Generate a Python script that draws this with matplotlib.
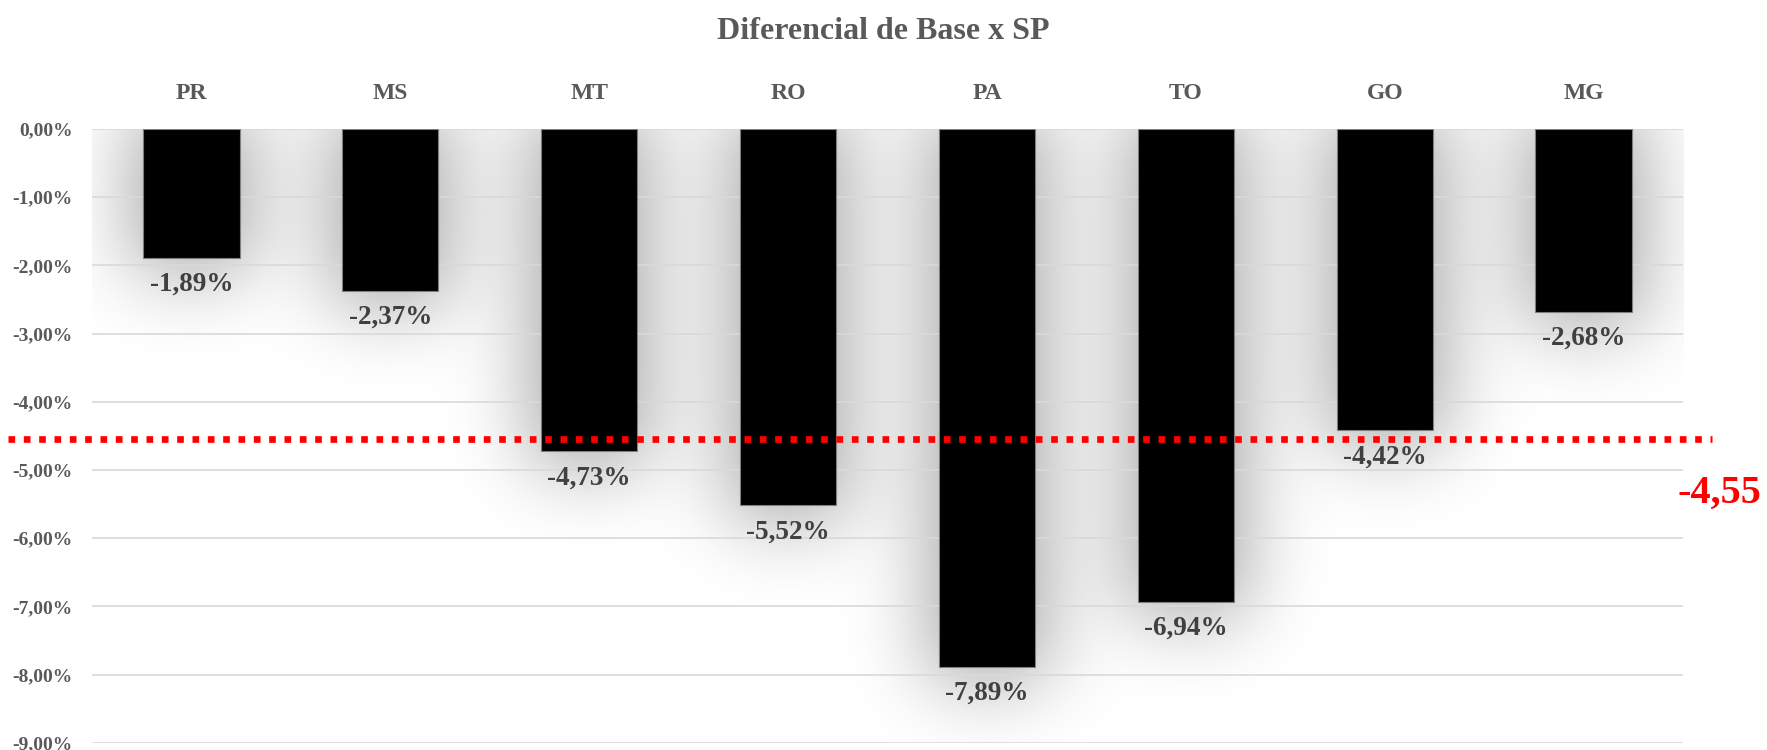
import numpy as np
import matplotlib.pyplot as plt
from matplotlib.ticker import FuncFormatter, MultipleLocator

# ==========
# 1. DATA
# ==========
estados = ["PR", "MS", "MT", "RO", "PA", "TO", "GO", "MG"]
diferencial = [-1.89, -2.37, -4.73, -5.52, -7.89, -6.94, -4.42, -2.68]
media = -4.55
titulo = "Diferencial de Base x SP"

FONT = ["Liberation Serif", "DejaVu Serif"]
plt.rcParams["font.family"] = FONT
plt.rcParams["font.weight"] = "bold"

def br(v, casas=2):
    return f"{v:.{casas}f}".replace(".", ",")

# ==========
# 2. FIGURE
# ==========
W, H, DPI = 1767, 750, 100
fig = plt.figure(figsize=(W / DPI, H / DPI), dpi=DPI)
ax = fig.add_axes([92 / W, 7.3 / H, 1591 / W, 613.8 / H])

x = np.arange(len(estados))
largura = 0.484
xlim = (-0.5, len(estados) - 0.5)
ylim = (-9, 0)

# ---- soft shadow behind bars (blurred mask) ----
nx, ny, pad = 1591, 614, 160
px_x = (xlim[1] - xlim[0]) / nx
px_y = (ylim[1] - ylim[0]) / ny
gx = xlim[0] + (np.arange(nx + 2 * pad) - pad + 0.5) * px_x
gy = ylim[1] - (np.arange(ny + 2 * pad) - pad + 0.5) * px_y
GX, GY = np.meshgrid(gx, gy)
mask = np.zeros_like(GX)
grow = 10
for xi, v in zip(x, diferencial):
    inside = ((GX >= xi - largura / 2 - grow * px_x) & (GX <= xi + largura / 2 + grow * px_x)
              & (GY >= v - grow * 1.5 * px_y) & (GY <= 20 * px_y))
    mask[inside] = 1.0

sigma = 40
k = np.arange(-3 * sigma, 3 * sigma + 1)
kern = np.exp(-0.5 * (k / sigma) ** 2)
kern /= kern.sum()
blur = np.apply_along_axis(lambda r: np.convolve(r, kern, mode="same"), 1, mask)
blur = np.apply_along_axis(lambda c: np.convolve(c, kern, mode="same"), 0, blur)
blur = blur[pad:pad + ny, pad:pad + nx]

shadow = np.zeros((ny, nx, 4))
shadow[..., 3] = 0.36 * blur
ax.imshow(shadow, extent=(xlim[0], xlim[1], ylim[0], ylim[1]), aspect="auto",
          interpolation="bilinear", zorder=0.2)

# ---- bars ----
ax.bar(x, diferencial, width=largura, color="black", edgecolor="#7f7f7f",
       linewidth=0.8, zorder=2)

for xi, v in zip(x, diferencial):
    ax.annotate(br(v) + "%", (xi, v), xytext=(0, -19), textcoords="offset points",
                ha="center", va="center", fontsize=19.5, fontweight="bold",
                color="#404040", zorder=3)

# ---- average line ----
ax.plot([-0.053, 1.018], [media, media], transform=ax.get_yaxis_transform(),
        color="#ff0000", linewidth=4.8, linestyle=(0, (1, 1.3)),
        clip_on=False, zorder=4)
ax.text(1.049, media - 0.8, br(media), transform=ax.get_yaxis_transform(),
        ha="right", va="center", fontsize=29, fontweight="bold", color="#ff0000")

# ---- axes ----
ax.set_xlim(*xlim)
ax.set_ylim(*ylim)
ax.set_xticks(x)
ax.set_xticklabels(estados)
ax.xaxis.tick_top()
ax.tick_params(axis="x", length=0, pad=18, labelsize=17, labelcolor="#595959")
ax.yaxis.set_major_locator(MultipleLocator(1))
ax.yaxis.set_major_formatter(FuncFormatter(lambda v, p: br(v) + "%"))
ax.tick_params(axis="y", length=0, pad=14, labelsize=14, labelcolor="#595959")
for lab in ax.get_xticklabels() + ax.get_yticklabels():
    lab.set_fontweight("bold")

ax.set_axisbelow(True)
ax.grid(axis="y", color="#d9d9d9", linewidth=1.2)
ax.grid(axis="x", visible=False)
for s in ax.spines.values():
    s.set_visible(False)

fig.text(883 / W, 1 - 31.5 / H, titulo, ha="center", va="center",
         fontsize=23, fontweight="bold", color="#595959")

fig.savefig("out.png", dpi=DPI)
